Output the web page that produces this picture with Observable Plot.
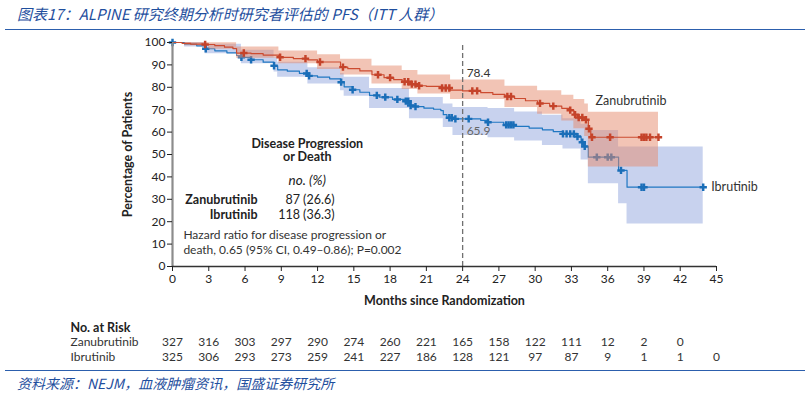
<!DOCTYPE html>
<html>
<head>
<meta charset="utf-8">
<script src="https://cdn.jsdelivr.net/npm/d3@7"></script>
<script src="https://cdn.jsdelivr.net/npm/@observablehq/plot@0.6"></script>
<style>
  body { margin: 0; background: #fff; }
  #wrap { position: relative; width: 810px; height: 395px; overflow: hidden; background: #fff; }
  .title { position: absolute; left: 17px; top: 4px; font: italic 15px/20px "Noto Sans CJK SC", sans-serif; color: #1f4f9e; white-space: nowrap; }
  .hline { position: absolute; left: 5px; width: 800px; height: 0; border-top: 1.5px solid #2c5fad; }
  #main { position: absolute; left: 0; top: 32px; }
  #risk { position: absolute; left: 0; top: 316px; }
  .foot { position: absolute; left: 17px; top: 374px; font: italic 14px/18px "Noto Sans CJK SC", sans-serif; color: #1f4f9e; white-space: nowrap; }
</style>
</head>
<body>
<div id="wrap">
  <div class="title">图表17：ALPINE 研究终期分析时研究者评估的 PFS（ITT 人群）</div>
  <div class="hline" style="top:29px"></div>
  <div id="main"></div>
  <div id="risk"></div>
  <div class="hline" style="top:370px"></div>
  <div class="foot">资料来源：NEJM，血液肿瘤资讯，国盛证券研究所</div>
</div>
<script>
// ---- Kaplan–Meier step data (months, % progression-free) ----
const zanuTime = [0, 0.8, 1.5, 2.5, 3.5, 4.3, 5.0, 5.3, 6.5, 7.5, 8.8, 10.0, 11.2, 12.0, 13.9, 14.5, 15.5, 16.5, 17.5, 18.3, 19.0, 19.8, 20.3, 21.0, 22.2, 23.0, 24.0, 25.5, 26.5, 27.5, 28.3, 29.2, 30.2, 31.2, 32.2, 32.9, 33.2, 33.5, 34.1, 34.4, 34.6, 40.2];
const zanuSurv = [100, 99.6, 99.3, 99.1, 98.6, 97.9, 97.3, 95.3, 95.0, 94.4, 93.4, 92.8, 92.2, 91.3, 89.0, 88.3, 87.3, 85.6, 84.3, 83.4, 82.5, 81.4, 80.7, 80.4, 79.7, 78.7, 78.4, 77.6, 76.8, 75.9, 75.0, 74.0, 72.8, 71.6, 70.6, 69.8, 67.8, 66.5, 65.5, 61.5, 57.7, 57.7];
const ibruTime = [0, 1.0, 2.0, 2.7, 3.5, 4.5, 5.3, 5.7, 6.5, 7.5, 8.4, 8.7, 9.5, 10.5, 11.2, 12.0, 13.0, 13.9, 14.2, 14.9, 15.5, 16.3, 17.1, 18.2, 19.3, 19.6, 20.1, 20.8, 21.6, 22.2, 22.4, 22.7, 23.2, 25.5, 26.1, 27.4, 28.3, 29.5, 30.6, 31.5, 32.3, 33.5, 33.8, 34.0, 34.4, 36.9, 37.6, 43.9];
const ibruSurv = [100, 99.3, 98.5, 97.2, 96.3, 95.4, 94.2, 93.4, 92.3, 91.2, 89.6, 87.8, 87.2, 86.2, 85.1, 84.5, 83.8, 82.3, 80.2, 78.9, 77.8, 76.4, 75.6, 74.6, 73.8, 71.9, 71.4, 70.7, 70.2, 69.6, 67.8, 66.4, 65.9, 65.2, 64.4, 63.2, 62.6, 61.8, 61.0, 60.2, 59.2, 58.0, 55.5, 53.6, 48.8, 42.9, 35.4, 35.4];

// censoring times (months)
const zanuCensor = [2.7, 5.9, 8.9, 11.0, 12.2, 14.1, 17.0, 18.0, 19.2, 19.5, 19.8, 20.1, 20.4, 22.3, 22.6, 22.9, 24.8, 25.2, 27.7, 28.0, 30.4, 31.5, 32.9, 33.3, 33.6, 33.9, 34.2, 34.45, 34.7, 36.2, 38.8, 39.0, 39.2, 39.5, 40.2];
const ibruCensor = [0, 2.75, 5.7, 6.5, 8.4, 11.1, 11.3, 13.95, 14.9, 16.9, 17.6, 18.6, 19.3, 19.5, 19.7, 20.1, 22.9, 23.1, 23.4, 24.5, 26.1, 27.6, 27.8, 28.0, 28.2, 32.3, 32.6, 32.9, 33.2, 33.5, 33.9, 34.1, 35.1, 36.0, 36.3, 37.1, 38.8, 39.0, 43.9];

// 95% CI bands (step-after): time, lower, upper
const zanuBandTime = [0, 1, 3, 5.3, 8.8, 12, 13.9, 16.5, 19, 20.3, 23, 27.5, 30.2, 32.2, 33.2, 34.1, 34.4, 40.2];
const zanuBandLo   = [100, 98.6, 97, 93, 90.5, 88, 85.5, 81.5, 79, 77, 74.5, 71, 68, 65, 61.5, 58, 44.4, 44.4];
const zanuBandHi   = [100, 100, 99.9, 98, 96.2, 94.5, 92.5, 89.5, 87.5, 85.5, 83.3, 80.5, 78.5, 76.5, 74.5, 72.5, 68.9, 68.9];
const ibruBandTime = [0, 1, 2.7, 5.7, 8.4, 8.7, 11.2, 13.9, 14.2, 16.3, 19.6, 22.4, 23.2, 26.1, 28.3, 30.6, 32.3, 33.8, 34.4, 36.9, 37.6, 43.9];
const ibruBandLo   = [100, 98, 95, 90.5, 86.8, 84.5, 81.5, 78.5, 76, 70.5, 66, 62, 58.5, 57.5, 56, 54, 52.5, 47.5, 36.9, 28, 19, 19];
const ibruBandHi   = [100, 100, 99.2, 96.5, 93.2, 91.2, 88.7, 86.2, 84.5, 79.5, 75.5, 72.5, 71, 70.5, 69, 67.5, 66, 63.5, 60.7, 53.3, 53.3, 53.3];

// axis ticks
const xTicks = [0, 3, 6, 9, 12, 15, 18, 21, 24, 27, 30, 33, 36, 39, 42, 45];
const yTicks = [0, 10, 20, 30, 40, 50, 60, 70, 80, 90, 100];

// landmark at 24 months
const landmarkMonth = 24;
const zanuAt24 = 78.4;
const ibruAt24 = 65.9;

// number at risk
const riskMonths = [0, 3, 6, 9, 12, 15, 18, 21, 24, 27, 30, 33, 36, 39, 42, 45];
const zanuRisk = [327, 316, 303, 297, 290, 274, 260, 221, 165, 158, 122, 111, 12, 2, 0];
const ibruRisk = [325, 306, 293, 273, 259, 241, 227, 186, 128, 121, 97, 87, 9, 1, 1, 0];

// ---- build tables ----
const steps = (t, s) => t.map((d, i) => ({t: d, s: s[i]}));
const band = (t, lo, hi) => t.map((d, i) => ({t: d, lo: lo[i], hi: hi[i]}));
function survAt(times, surv, m) {
  let v = surv[0];
  for (let i = 0; i < times.length; i++) if (times[i] <= m) v = surv[i];
  return v;
}
const zanu = steps(zanuTime, zanuSurv);
const ibru = steps(ibruTime, ibruSurv);
const zanuC = zanuCensor.map(m => ({t: m, s: survAt(zanuTime, zanuSurv, m)}));
const ibruC = ibruCensor.map(m => ({t: m, s: survAt(ibruTime, ibruSurv, m)}));
const zanuB = band(zanuBandTime, zanuBandLo, zanuBandHi);
const ibruB = band(ibruBandTime, ibruBandLo, ibruBandHi);

const RED = "#cc4b30", RED_MARK = "#c5432a";
const BLUE = "#1f77c2", BLUE_MARK = "#1a6eb8";
const FONT = "Lato, 'Noto Sans', sans-serif";

const main = Plot.plot({
  width: 810, height: 278,
  marginLeft: 172, marginRight: 94, marginTop: 10, marginBottom: 44,
  x: {domain: [0, 45]},
  y: {domain: [0, 100]},
  style: {fontFamily: FONT, fontSize: "12px", color: "#222", background: "transparent", overflow: "visible"},
  marks: [
    Plot.areaY(ibruB, {x: "t", y1: "lo", y2: "hi", curve: "step-after", fill: "#c8d2ee"}),
    Plot.line(ibru, {x: "t", y: "s", curve: "step-after", stroke: BLUE, strokeWidth: 1.2}),
    Plot.dot(ibruC, {x: "t", y: "s", symbol: "cross", r: 3.1, fill: BLUE_MARK}),
    Plot.areaY(zanuB, {x: "t", y1: "lo", y2: "hi", curve: "step-after", fill: "#e6896b", fillOpacity: 0.5}),
    Plot.line(zanu, {x: "t", y: "s", curve: "step-after", stroke: RED, strokeWidth: 1.2}),
    Plot.dot(zanuC, {x: "t", y: "s", symbol: "cross", r: 3.1, fill: RED_MARK}),
    Plot.ruleX([landmarkMonth], {y1: 0, y2: 100, stroke: "#707070", strokeWidth: 1.3, strokeDasharray: "5,3"}),
    Plot.text([zanuAt24], {x: landmarkMonth, y: d => d, text: d => d.toFixed(1), dx: 4, dy: -18, textAnchor: "start", fill: "#333", fontSize: 12}),
    Plot.text([ibruAt24], {x: landmarkMonth, y: d => d, text: d => d.toFixed(1), dx: 4, dy: 12, textAnchor: "start", fill: "#666", fontSize: 12}),
    Plot.ruleX([0], {y1: 0, y2: 100, stroke: "#8c8c8c", strokeWidth: 2.2}),
    Plot.ruleY([0], {x1: 0, x2: 45, stroke: "#333", strokeWidth: 1.4}),
    Plot.axisY({ticks: yTicks, tickSize: 5, tickPadding: 2, label: null, fontSize: 12}),
    Plot.axisX({ticks: xTicks, tickSize: 5, tickPadding: 3, label: null, fontSize: 12}),
    // axis titles
    Plot.text(["Percentage of Patients"], {frameAnchor: "left", rotate: -90, dx: -45, textAnchor: "middle", lineAnchor: "middle", fontWeight: "bold", fontSize: 12.5, fill: "#222"}),
    Plot.text(["Months since Randomization"], {frameAnchor: "bottom", dy: 34, textAnchor: "middle", lineAnchor: "middle", fontWeight: "bold", fontSize: 12.5, fill: "#222"}),
    // series labels
    Plot.text(["Zanubrutinib"], {x: 35.0, y: 73.7, textAnchor: "start", fontSize: 12.5, fill: "#333"}),
    Plot.text(["Ibrutinib"], {x: ibruTime[ibruTime.length - 1], y: ibruSurv[ibruSurv.length - 1], dx: 8, textAnchor: "start", fontSize: 12.5, fill: "#333"}),
    // inset legend block
    Plot.text(["Disease Progression"], {x: 11.15, y: 54.9, fontWeight: "bold", fontSize: 12.5, fill: "#222"}),
    Plot.text(["or Death"], {x: 11.15, y: 48.7, fontWeight: "bold", fontSize: 12.5, fill: "#222"}),
    Plot.text(["no. (%)"], {x: 11.15, y: 38.4, fontStyle: "italic", fontSize: 13.5, fill: "#222"}),
    Plot.text(["Zanubrutinib", "Ibrutinib"], {x: 7.03, y: [29.9, 22.8], textAnchor: "end", fontWeight: "bold", fontSize: 12.5, fill: "#222"}),
    Plot.text(["87 (26.6)", "118 (36.3)"], {x: 13.4, y: [29.9, 22.8], textAnchor: "end", fontSize: 12.5, fill: "#222"}),
    Plot.text(["Hazard ratio for disease progression or", "death, 0.65 (95% CI, 0.49–0.86); P=0.002"], {x: 0.9, y: [13.8, 7.4], textAnchor: "start", fontSize: 12, fill: "#333"})
  ]
});
document.getElementById("main").appendChild(main);

const rows = ["No. at Risk", "Zanubrutinib", "Ibrutinib"];
const riskTable = [
  ...zanuRisk.map((n, i) => ({m: riskMonths[i], row: "Zanubrutinib", n})),
  ...ibruRisk.map((n, i) => ({m: riskMonths[i], row: "Ibrutinib", n}))
];
const risk = Plot.plot({
  width: 810, height: 52,
  marginLeft: 172, marginRight: 94, marginTop: 0, marginBottom: 0,
  x: {domain: [0, 45], axis: null},
  y: {type: "point", domain: rows, range: [10, 41], padding: 0, axis: null},
  style: {fontFamily: FONT, fontSize: "12px", color: "#222", background: "transparent", overflow: "visible"},
  marks: [
    Plot.text([rows[0]], {y: d => d, text: d => d, frameAnchor: "left", dx: -102, textAnchor: "start", fontWeight: "bold", fontSize: 12.5, fill: "#222"}),
    Plot.text(rows.slice(1), {y: d => d, text: d => d, frameAnchor: "left", dx: -102, textAnchor: "start", fontSize: 12, fill: "#333"}),
    Plot.text(riskTable, {x: "m", y: "row", text: "n", textAnchor: "middle", fontSize: 12, fill: "#333"})
  ]
});
document.getElementById("risk").appendChild(risk);
</script>
</body>
</html>
